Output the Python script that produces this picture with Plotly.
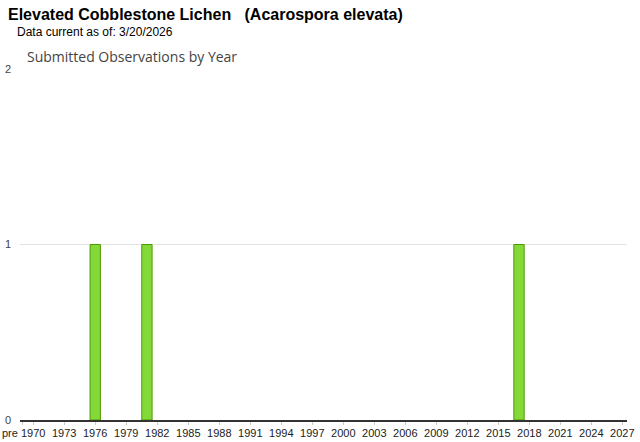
import plotly.graph_objects as go

# Data
obs_years = [1976, 1981, 2017]
obs_counts = [1, 1, 1]
tick_years = list(range(1970, 2028, 3))
tick_labels = [str(y) for y in tick_years]
pre_label = "pre"
y_ticks = [0, 1, 2]

W, H = 640, 442
L, R, T, B = 20, 13.3, 69, 22
pw, ph = W - L - R, H - T - B

def px(x):
    return (x - L) / pw

def py(y):
    return (H - B - y) / ph

fig = go.Figure()
fig.add_trace(go.Bar(
    x=obs_years, y=obs_counts, width=1.0,
    marker=dict(color="#84d838", line=dict(color="#4c9a00", width=1)),
    hoverinfo="x+y",
))

fig.update_layout(
    width=W, height=H,
    margin=dict(l=L, r=R, t=T, b=B, autoexpand=False),
    paper_bgcolor="white", plot_bgcolor="white",
    showlegend=False,
    font=dict(family="Arial, Liberation Sans, sans-serif", size=11, color="#222"),
    xaxis=dict(
        range=[1968.72, 2027.45],
        tickvals=[1969] + tick_years,
        ticktext=[""] + tick_labels,
        ticks="outside", ticklen=3, tickcolor="#cccccc",
        ticklabelstandoff=-1,
        showgrid=False, zeroline=False,
        showline=True, linecolor="#333", linewidth=1.5,
        tickfont=dict(size=11, color="#222"),
        automargin=False,
        fixedrange=True,
    ),
    yaxis=dict(
        range=[0, 2],
        tickvals=y_ticks,
        ticktext=[str(v) for v in y_ticks],
        showgrid=True, gridcolor="#e3e3e3", gridwidth=1,
        zeroline=False, showline=False,
        tickfont=dict(size=11, color="#444"),
        ticklabelstandoff=8,
        automargin=False,
        fixedrange=True,
    ),
    annotations=[
        dict(text="<b>Elevated Cobblestone Lichen\u00a0\u00a0\u00a0(Acarospora elevata)</b>",
             x=px(6), y=py(14), xref="paper", yref="paper",
             xanchor="left", yanchor="middle", showarrow=False,
             font=dict(family="Arial, Liberation Sans, sans-serif", size=16, color="#000")),
        dict(text="Data current as of: 3/20/2026",
             x=px(15), y=py(32), xref="paper", yref="paper",
             xanchor="left", yanchor="middle", showarrow=False,
             font=dict(family="Arial, Liberation Sans, sans-serif", size=12, color="#000")),
        dict(text="Submitted Observations by Year",
             x=px(25), y=py(57), xref="paper", yref="paper",
             xanchor="left", yanchor="middle", showarrow=False,
             font=dict(family="Open Sans, sans-serif", size=14, color="#444")),
        dict(text=pre_label,
             x=px(10), y=py(433), xref="paper", yref="paper",
             xanchor="center", yanchor="middle", showarrow=False,
             font=dict(family="Arial, Liberation Sans, sans-serif", size=11, color="#222")),
    ],
)

fig.write_html(
    "out.html",
    config={"displayModeBar": False},
    post_script="document.body.style.margin='0';document.body.style.overflow='hidden';",
)
